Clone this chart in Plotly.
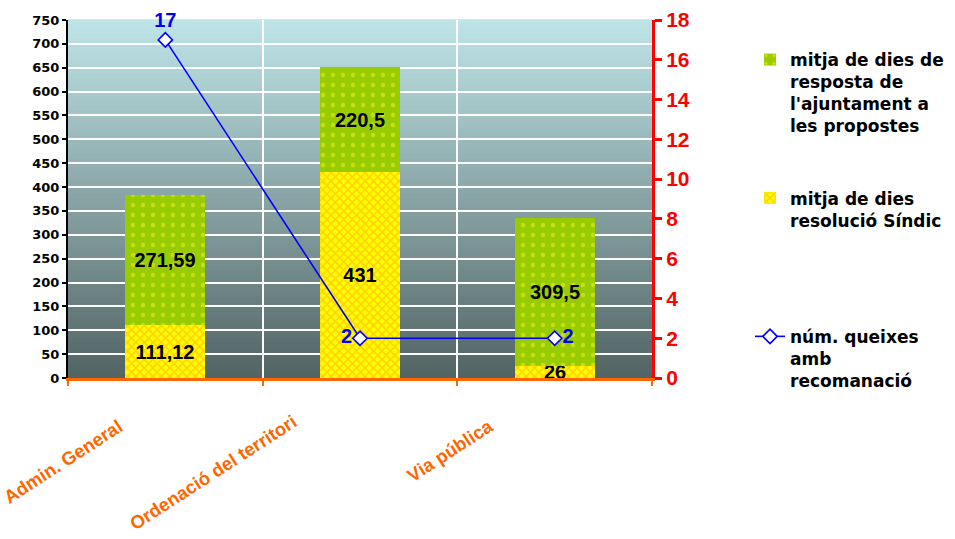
import plotly.graph_objects as go

# Data
categories = ["Admin. General", "Ordenació del territori", "Via pública"]
resolucio_sindic = [111.12, 431, 26]
resposta_ajuntament = [271.59, 220.5, 309.5]
queixes_recomanacio = [17, 2, 2]

series_names = [
    "mitja de dies de<br>resposta de<br>l'ajuntament a<br>les propostes",
    "mitja de dies<br>resolució Síndic<br> <br> ",
    "núm. queixes<br>amb<br>recomanació",
]

W, H = 955, 539
PX_L, PX_R, PX_T, PX_B = 68, 652, 20, 378

def fmt(v):
    return f"{v:g}".replace(".", ",")

xpos = list(range(len(categories)))
label_font = dict(family="Liberation Sans", size=20, color="black", weight="bold")

fig = go.Figure()

fig.add_trace(go.Bar(
    x=xpos, y=resolucio_sindic, name=series_names[1], legendrank=2,
    width=0.41,
    marker=dict(color="#FFFF00", line=dict(width=0),
                pattern=dict(shape="x", bgcolor="#FFFF00", fgcolor="#FFA800",
                             size=6, solidity=0.5)),
    text=[fmt(v) for v in resolucio_sindic], textposition="inside",
    insidetextanchor="middle", constraintext="none", textangle=0,
    textfont=label_font, cliponaxis=False, hoverinfo="skip",
))
fig.add_trace(go.Bar(
    x=xpos, y=resposta_ajuntament, name=series_names[0], legendrank=1,
    width=0.41,
    marker=dict(color="#99CC00", line=dict(width=0),
                pattern=dict(shape=".", bgcolor="#99CC00", fgcolor="#F4F420",
                             size=10, solidity=0.15)),
    text=[fmt(v) for v in resposta_ajuntament], textposition="inside",
    insidetextanchor="middle", constraintext="none", textangle=0,
    textfont=label_font, cliponaxis=False, hoverinfo="skip",
))
fig.add_trace(go.Scatter(
    x=xpos, y=queixes_recomanacio, yaxis="y2", name=series_names[2], legendrank=3,
    mode="lines+markers+text",
    line=dict(color="#0000FF", width=1.6),
    marker=dict(symbol="diamond", size=11, color="white",
                line=dict(color="#0000FF", width=1.6)),
    text=[str(v) for v in queixes_recomanacio],
    textposition=["top center", "middle left", "middle right"],
    textfont=dict(family="Liberation Sans", size=20, color="#0000FF", weight="bold"),
    cliponaxis=False, hoverinfo="skip",
))

# Vertical gradient background of the plot area
top_rgb = (0xBE, 0xE4, 0xE7)
bot_rgb = (0x53, 0x64, 0x64)
N = 80
shapes = []
for i in range(N):
    t = i / (N - 1)
    c = tuple(round(bot_rgb[k] + (top_rgb[k] - bot_rgb[k]) * t) for k in range(3))
    shapes.append(dict(type="rect", xref="x domain", yref="y domain",
                       x0=0, x1=1, y0=i / N, y1=(i + 1) / N + 0.002,
                       fillcolor="rgb(%d,%d,%d)" % c, line=dict(width=0),
                       layer="below"))

xdom = [PX_L / W, PX_R / W]
ydom = [1 - PX_B / H, 1 - PX_T / H]

# Rotated category labels under the axis
label_shift = [(-36, -35), (-57, -30), (-55, -34)]
annotations = []
for i, cat in enumerate(categories):
    dx, dy = label_shift[i]
    annotations.append(dict(
        x=i, y=0, xref="x", yref="y", text=cat, showarrow=False,
        textangle=-33, xanchor="right", yanchor="top", xshift=dx, yshift=dy,
        font=dict(family="Liberation Sans", size=18.5, color="#FF6600", weight="bold"),
    ))

fig.update_layout(
    width=W, height=H,
    margin=dict(l=0, r=0, t=0, b=0, autoexpand=False),
    paper_bgcolor="white", plot_bgcolor="#8AA5A6",
    barmode="stack", bargap=0,
    shapes=shapes, annotations=annotations,
    xaxis=dict(domain=xdom, range=[-0.5, 2.5], tickvals=[-0.5, 0.5, 1.5, 2.5],
               showticklabels=False, showgrid=True, gridcolor="white", gridwidth=1.5,
               showline=True, linecolor="#FF6600", linewidth=3,
               ticks="outside", tickcolor="#FF6600", ticklen=5, tickwidth=2,
               zeroline=False, fixedrange=True, automargin=False),
    yaxis=dict(domain=ydom, range=[0, 750], dtick=50, showgrid=True,
               gridcolor="white", gridwidth=1.5, zeroline=False,
               showline=True, linecolor="black", linewidth=2,
               ticks="outside", tickcolor="black", ticklen=4, tickwidth=2,
               automargin=False,
               tickfont=dict(family="DejaVu Sans", size=13, color="black", weight="bold")),
    yaxis2=dict(overlaying="y", side="right", range=[0, 18], dtick=2,
                showgrid=False, zeroline=False, anchor="x", automargin=False,
                showline=True, linecolor="#FF0000", linewidth=3,
                ticks="outside", tickcolor="#FF0000", ticklen=7, tickwidth=3,
                tickfont=dict(family="Liberation Sans", size=21, color="#FF0000", weight="bold")),
    legend=dict(x=750 / W, y=1 - 42 / H, xanchor="left", yanchor="top",
                valign="top", tracegroupgap=47, bgcolor="rgba(0,0,0,0)",
                font=dict(family="DejaVu Sans", size=17, color="black", weight="bold"),
                traceorder="grouped"),
    showlegend=True,
)
for tr in fig.data:
    tr.legendgroup = tr.name

fig.write_html("out.html")
